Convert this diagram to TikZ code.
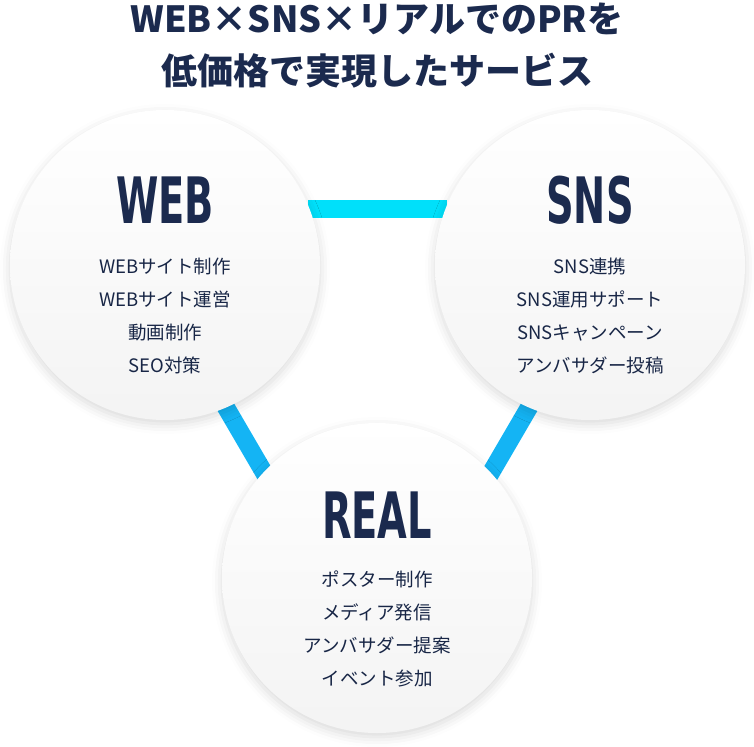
\documentclass[tikz,border=0pt]{standalone}
\usepackage{fontspec}
\usetikzlibrary{positioning,shadows.blur}
\newfontfamily\jpfont{Noto Sans CJK JP}
\newfontfamily\headfont{DejaVu Sans}
\definecolor{navy}{HTML}{1B2A4E}
\definecolor{barcyan}{HTML}{00E0FA}
\definecolor{barblue}{HTML}{14B4F4}
\begin{document}
\begin{tikzpicture}[x=1pt, y=-1pt,
    bubble/.style={circle, minimum size=310pt, inner sep=0pt, top color=white, bottom color=gray!9, blur shadow={shadow xshift=0pt, shadow yshift=-4pt, shadow blur radius=10pt, shadow opacity=15}},
    heading/.style={font=\headfont\bfseries\fontsize{64}{64}\selectfont, text=navy},
    items/.style={font=\jpfont\fontsize{18.5}{33}\selectfont, text=navy!90!black, align=center},
    bar/.style={line width=18pt}
  ]
  \useasboundingbox (0,0) rectangle (754,746);
  % title
  \node (title) [font=\jpfont\bfseries\fontsize{36}{52}\selectfont, text=navy, align=center] at (377,46) {WEB×SNS×リアルでのPRを\\低価格で実現したサービス};
  % connectors
  \coordinate (tl) at (308,209);
  \coordinate (tr) at (447,209);
  \coordinate (ll) at (224,404);
  \coordinate (lr) at (266,476);
  \coordinate (rl) at (531,404);
  \coordinate (rr) at (489,476);
  \draw[bar, barcyan] (tl) -- (tr);
  \draw[bar, barblue] (ll) -- (lr);
  \draw[bar, barblue] (rl) -- (rr);
  % circles
  \node (web) [bubble] at (165,265) {};
  \node (sns) [bubble] at (590,265) {};
  \node (real) [bubble] at (377,578) {};
  \node [heading] at (165,200) {\scalebox{0.6}[1]{WEB}};
  \node [heading] at (590,200) {\scalebox{0.6}[1]{SNS}};
  \node [heading] at (377,515) {\scalebox{0.6}[1]{REAL}};
  \node [items, anchor=north] at (165,254) {WEBサイト制作\\WEBサイト運営\\動画制作\\SEO対策};
  \node [items, anchor=north] at (590,254) {SNS連携\\SNS運用サポート\\SNSキャンペーン\\アンバサダー投稿};
  \node [items, anchor=north] at (377,567) {ポスター制作\\メディア発信\\アンバサダー提案\\イベント参加};
\end{tikzpicture}
\end{document}
